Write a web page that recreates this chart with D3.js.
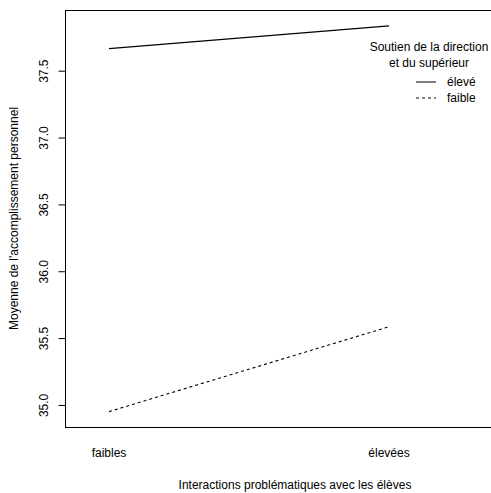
<!DOCTYPE html>
<html>
<head>
<meta charset="utf-8">
<style>
  body { margin: 0; background: #fff; }
  text { font-family: "Liberation Sans", Arial, Helvetica, sans-serif; fill: #000; }
</style>
<script src="https://d3js.org/d3.v7.min.js"></script>
</head>
<body>
<svg width="491" height="493"></svg>
<script>

// data
var categories = ["faibles", "élevées"];
var eleve = [37.665, 37.835];
var faible = [34.95, 35.585];
var seriesNames = ["élevé", "faible"];
var yTicks = [35.0, 35.5, 36.0, 36.5, 37.0, 37.5];

var svg = d3.select("svg"),
    boxLeft = 65, boxRight = 525, boxTop = 10, boxBottom = 427;

var x = d3.scaleLinear().domain([1, 2]).range([109, 389]);
var y = d3.scaleLinear().domain([34.835, 37.954]).range([boxBottom, boxTop]);

// box
svg.append("rect")
  .attr("x", boxLeft + 0.5).attr("y", boxTop + 0.5)
  .attr("width", boxRight - boxLeft).attr("height", boxBottom - boxTop)
  .attr("fill", "none").attr("stroke", "#000").attr("stroke-width", 1);

// y axis
var yAxis = svg.append("g")
  .attr("transform", "translate(" + (boxLeft + 0.5) + ",0)")
  .call(d3.axisLeft(y).tickValues(yTicks).tickSize(7).tickFormat(d3.format(".1f")));
yAxis.select(".domain").remove();
yAxis.selectAll("line").attr("stroke", "#000");
yAxis.selectAll("text")
  .attr("x", 0).attr("y", 0).attr("dy", null)
  .attr("transform", "translate(-18,0) rotate(-90)")
  .attr("text-anchor", "middle")
  .attr("fill", "#000")
  .style("font-size", "12px")
  .style("font-family", "Liberation Sans, Arial, sans-serif");

// x labels (no ticks)
svg.selectAll(".xlab")
  .data(categories)
  .enter().append("text")
  .attr("class", "xlab")
  .attr("x", function(d, i) { return x(i + 1); })
  .attr("y", 457)
  .attr("text-anchor", "middle")
  .style("font-size", "12px")
  .text(function(d) { return d; });

// axis titles
svg.append("text")
  .attr("x", 295).attr("y", 489)
  .attr("text-anchor", "middle")
  .style("font-size", "12px")
  .text("Interactions problématiques avec les élèves");

svg.append("text")
  .attr("transform", "translate(18," + ((boxTop + boxBottom) / 2) + ") rotate(-90)")
  .attr("text-anchor", "middle")
  .style("font-size", "12px")
  .text("Moyenne de l'accomplissement personnel");

// lines
var line = d3.line()
  .x(function(d, i) { return x(i + 1); })
  .y(function(d) { return y(d); });

svg.append("path").datum(eleve)
  .attr("fill", "none").attr("stroke", "#000").attr("stroke-width", 1.1)
  .attr("d", line);

svg.append("path").datum(faible)
  .attr("fill", "none").attr("stroke", "#000").attr("stroke-width", 1.1)
  .attr("stroke-dasharray", "3,3")
  .attr("d", line);

// legend
var lg = svg.append("g");
lg.append("text").attr("x", 429).attr("y", 51).attr("text-anchor", "middle")
  .style("font-size", "12px").text("Soutien de la direction");
lg.append("text").attr("x", 429).attr("y", 67).attr("text-anchor", "middle")
  .style("font-size", "12px").text("et du supérieur");

var dashes = [null, "3,3"];
seriesNames.forEach(function(name, i) {
  var yy = 82 + i * 16;
  lg.append("line")
    .attr("x1", 416).attr("x2", 436).attr("y1", yy).attr("y2", yy)
    .attr("stroke", "#000").attr("stroke-width", 1)
    .attr("stroke-dasharray", dashes[i]);
  lg.append("text").attr("x", 447).attr("y", yy + 4)
    .style("font-size", "12px").text(name);
});

</script>
</body>
</html>
